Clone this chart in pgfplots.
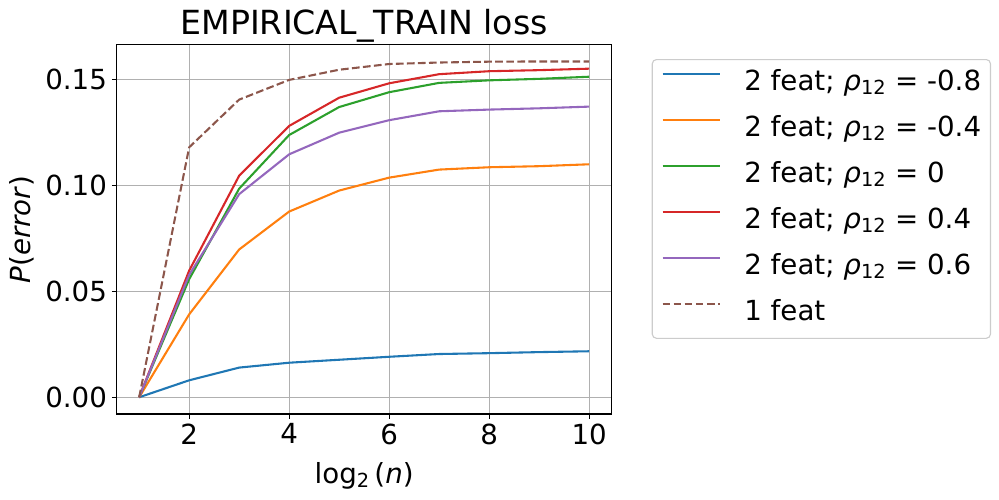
\documentclass[border=0pt]{standalone}
\usepackage{pgfplots}
\pgfplotsset{compat=1.18}
\usepackage{fontspec}
\setmainfont{DejaVu Sans}

\definecolor{c0}{HTML}{1F77B4}
\definecolor{c1}{HTML}{FF7F0E}
\definecolor{c2}{HTML}{2CA02C}
\definecolor{c3}{HTML}{D62728}
\definecolor{c4}{HTML}{9467BD}
\definecolor{c5}{HTML}{8C564B}
\definecolor{gridgray}{HTML}{B0B0B0}
\definecolor{legframe}{HTML}{CCCCCC}

\newcommand{\rholab}[1]{2 feat; \textit{ρ}\textsubscript{12} = #1}

\begin{document}
\begin{tikzpicture}
\useasboundingbox (-84.0bp,-61.2bp) rectangle (635.3bp,298.1bp);
\begin{axis}[
  at={(0,0)}, anchor=south west,
  scale only axis,
  width=356.4bp, height=265.9bp,
  xmin=0.55, xmax=10.45,
  ymin=-0.0079, ymax=0.1663,
  xtick={2,4,6,8,10},
  ytick={0,0.05,0.10,0.15},
  yticklabel style={/pgf/number format/.cd, fixed, fixed zerofill, precision=2},
  /pgf/number format/assume math mode=true,
  tick label style={font=\fontsize{20}{24}\selectfont},
  tick align=outside,
  major tick length=3.5bp,
  tick style={black, line width=0.8bp},
  xtick pos=bottom, ytick pos=left,
  axis line style={line width=0.8bp},
  grid=major,
  major grid style={gridgray, line width=0.8bp},
  title={EMPIRICAL\_TRAIN loss},
  title style={font=\fontsize{24}{28}\selectfont, at={(axis description cs:0.5,1)}, anchor=base, yshift=1.5bp},
  xlabel={log\textsubscript{2}\,(\textit{n})},
  xlabel style={font=\fontsize{20}{24}\selectfont, at={(axis description cs:0.5,0)}, anchor=base, yshift=-49.7bp},
  ylabel={\textit{P}(\textit{error})},
  ylabel style={font=\fontsize{20}{24}\selectfont, at={(axis description cs:-0.1913,0.5)}, anchor=center, rotate=0},
  legend cell align=left,
  legend image code/.code={\draw[#1] (0bp,7.3bp) -- (41.5bp,7.3bp);},
  legend style={
    at={(1.081,0.9613)}, anchor=north west,
    draw=legframe, line width=0.8bp, rounded corners=3bp, fill=white,
    font=\fontsize{20}{24}\selectfont,
    inner xsep=6.7bp, inner ysep=7.1bp,
    row sep=12.1bp, column sep=16.6bp,
    nodes={inner sep=0pt, text height=15bp, text depth=6bp},
  },
  every axis plot/.append style={line width=1.5bp},
]
\addplot[c0] coordinates {(1,0) (2,0.0080) (3,0.0140) (4,0.0163) (5,0.0177) (6,0.0191) (7,0.0204) (8,0.0208) (9,0.0213) (10,0.0217)};
\addlegendentry{\rholab{-0.8}}
\addplot[c1] coordinates {(1,0) (2,0.0391) (3,0.0697) (4,0.0876) (5,0.0975) (6,0.1036) (7,0.1074) (8,0.1085) (9,0.1090) (10,0.1099)};
\addlegendentry{\rholab{-0.4}}
\addplot[c2] coordinates {(1,0) (2,0.0557) (3,0.0984) (4,0.1237) (5,0.1369) (6,0.1439) (7,0.1483) (8,0.1495) (9,0.1502) (10,0.1512)};
\addlegendentry{\rholab{0}}
\addplot[c3] coordinates {(1,0) (2,0.0597) (3,0.1045) (4,0.1280) (5,0.1413) (6,0.1481) (7,0.1524) (8,0.1538) (9,0.1543) (10,0.1550)};
\addlegendentry{\rholab{0.4}}
\addplot[c4] coordinates {(1,0) (2,0.0577) (3,0.0958) (4,0.1146) (5,0.1248) (6,0.1307) (7,0.1349) (8,0.1357) (9,0.1363) (10,0.1371)};
\addlegendentry{\rholab{0.6}}
\addplot[c5, dash pattern=on 5.55bp off 2.4bp] coordinates {(1,0) (2,0.1179) (3,0.1404) (4,0.1497) (5,0.1545) (6,0.1572) (7,0.1579) (8,0.1583) (9,0.1584) (10,0.1584)};
\addlegendentry{1 feat}
\end{axis}
\end{tikzpicture}
\end{document}
